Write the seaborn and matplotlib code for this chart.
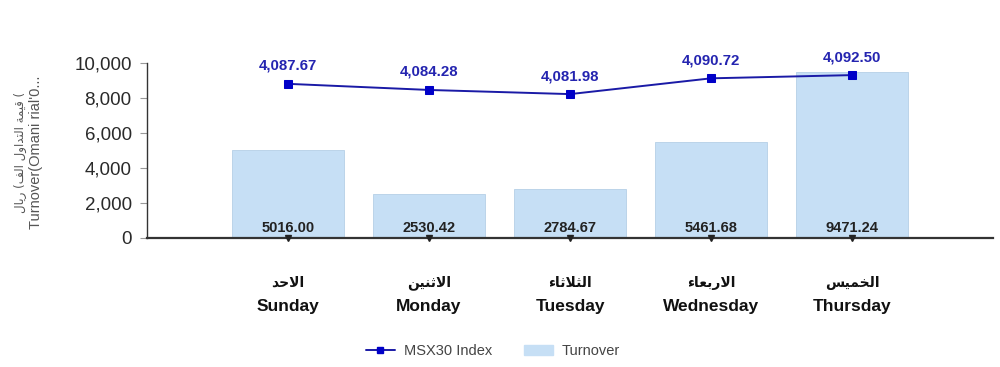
import numpy as np
import pandas as pd
import matplotlib
matplotlib.use("Agg")
import matplotlib.pyplot as plt
import seaborn as sns
from matplotlib.lines import Line2D
from matplotlib.patches import Patch

# ---- data ----
days_en = ["Sunday", "Monday", "Tuesday", "Wednesday", "Thursday"]
# Arabic day names (pre-shaped presentation forms, visual order)
days_ar = ["\uFEAA\uFEA3\uFEFB\uFE8D",
           "\uFEE6\uFEF4\uFEE8\uFE9B\uFEFB\uFE8D",
           "\uFE80\uFE8E\uFE9B\uFEFC\uFE9C\uFEDF\uFE8D",
           "\uFE80\uFE8E\uFECC\uFE91\uFEAD\uFEFB\uFE8D",
           "\uFEB2\uFEF4\uFEE4\uFEA8\uFEDF\uFE8D"]
turnover = [5016.00, 2530.42, 2784.67, 5461.68, 9471.24]
msx30 = [4087.67, 4084.28, 4081.98, 4090.72, 4092.50]
yticks = [0, 2000, 4000, 6000, 8000, 10000]
ylabel_ar = "\uFEDD\uFE8E\uFEF3\uFEAD (\uFED2\uFEDF\uFE8D \uFEDD\uFEED\uFE8D\uFEAA\uFE98\uFEDF\uFE8D \uFE94\uFEE4\uFEF4\uFED7 ("
ylabel_en = "Turnover(Omani rial'0..."

sns.set_theme(style="white")
plt.rcParams['font.family'] = ['Liberation Sans', 'DejaVu Sans']

df = pd.DataFrame({"day": days_en, "turnover": turnover, "msx30": msx30, "pos": np.arange(len(days_en))})

fig = plt.figure(figsize=(10, 3.67), dpi=100)
ax = fig.add_axes([0.147, 0.3515, 0.846, 0.4768])

bar_color = "#c6dff5"
sns.barplot(data=df, x="day", y="turnover", ax=ax, color=bar_color, saturation=1,
            width=0.79, edgecolor="#b5cfe6", linewidth=0.6)
ax.set_xlim(-1, 5)
ax.set_ylim(0, 10000)
ax.set_yticks(yticks)
ax.set_yticklabels([f"{v:,}" for v in yticks], fontsize=13.5, color="#2a2a2a")
ax.set_xticks([])
ax.set_xlabel("")
ax.set_ylabel("")
for s in ["top", "right"]:
    ax.spines[s].set_visible(False)
ax.spines["left"].set_color("#333333")
ax.spines["left"].set_linewidth(1.0)
ax.spines["bottom"].set_color("#333333")
ax.spines["bottom"].set_linewidth(1.6)
ax.tick_params(axis="y", left=True, length=5, width=0.8, color="#999999", pad=6)

# baseline small markers
ax.plot(df["pos"], [0] * len(df), linestyle="none", marker="v", markersize=5,
        color="#222222", clip_on=False, zorder=5)

# bar value labels
for i, v in enumerate(turnover):
    ax.annotate(f"{v:.2f}", (i, 0), xytext=(0, 2.5), textcoords="offset points",
                ha="center", va="bottom", fontsize=10.5, fontweight="bold", color="#222222")

# day labels
tr = ax.get_xaxis_transform()
for i, (en, ar) in enumerate(zip(days_en, days_ar)):
    ax.text(i, -0.257, ar, transform=tr, ha="center", va="center", fontsize=10,
            fontweight="bold", color="#111111", family=["DejaVu Sans"])
    ax.text(i, -0.394, en, transform=tr, ha="center", va="center", fontsize=12.5,
            fontweight="bold", color="#111111",
            family=["Liberation Sans Narrow", "Liberation Sans"])

# y-axis label (two lines)
fig.text(0.020, 0.586, ylabel_ar, rotation=90, ha="center", va="center",
         fontsize=8.5, color="#555555", family=["DejaVu Sans"])
fig.text(0.036, 0.586, ylabel_en, rotation=90, ha="center", va="center",
         fontsize=10.5, color="#555555")

# secondary axis for index line
ax2 = ax.twinx()
line_color = "#1a1aa6"
sns.lineplot(data=df, x="pos", y="msx30", ax=ax2, color=line_color, linewidth=1.4,
             marker="s", markersize=6, markeredgecolor="#0000c8", markerfacecolor="#0000c8")
ax2.set_ylim(4002.3, 4099.2)
ax2.set_xlim(-1, 5)
ax2.axis("off")
for i, v in enumerate(msx30):
    ax2.annotate(f"{v:,.2f}", (i, v), xytext=(0, 13), textcoords="offset points",
                 ha="center", va="center", fontsize=10.8, fontweight="bold", color="#2424b0")

# legend
handles = [Line2D([0], [0], color=line_color, linewidth=1.4, marker="s", markersize=5,
                  markerfacecolor="#0000c8", markeredgecolor="#0000c8"),
           Patch(facecolor=bar_color, edgecolor=bar_color)]
fig.legend(handles, ["MSX30 Index", "Turnover"], loc="center", bbox_to_anchor=(0.493, 0.043),
           ncol=2, frameon=False, fontsize=10.5, labelcolor="#444444",
           handlelength=2.0, columnspacing=2.2, handletextpad=0.6)

fig.savefig("out.png", dpi=100)
